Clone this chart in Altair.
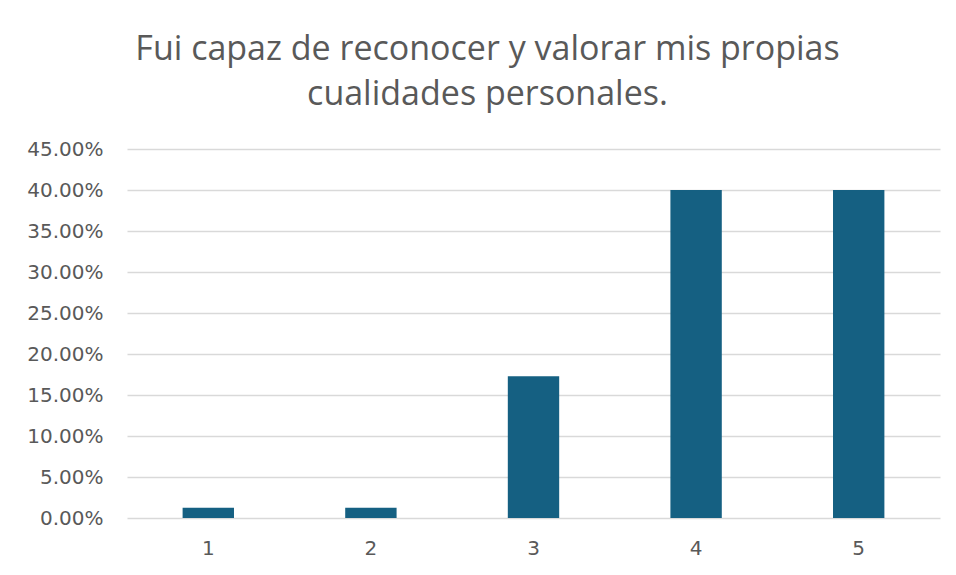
import altair as alt
import pandas as pd

categories = ["1", "2", "3", "4", "5"]
values = [0.0125, 0.0125, 0.173, 0.40, 0.40]
title_lines = ["Fui capaz de reconocer y valorar mis propias", "cualidades personales."]

df = pd.DataFrame({"cat": categories, "val": values})

bars = alt.Chart(df).mark_bar(color="#156082").encode(
    x=alt.X("cat:N", sort=categories, title=None,
            scale=alt.Scale(paddingInner=0.684, paddingOuter=0.342),
            axis=alt.Axis(labelAngle=0, labelFontSize=20, labelColor="#595959",
                          labelFont="DejaVu Sans", labelPadding=20, ticks=False,
                          domain=False, grid=False)),
    y=alt.Y("val:Q", title=None,
            scale=alt.Scale(domain=[0, 0.45], nice=False),
            axis=alt.Axis(values=[i * 0.05 for i in range(10)], format=".2%",
                          labelFontSize=20, labelColor="#595959", labelFont="DejaVu Sans",
                          labelPadding=24, ticks=False, domain=False,
                          gridColor="#D9D9D9", gridWidth=1.5)),
)

chart = bars.properties(
    width=813,
    height=369,
    background="white",
    title=alt.TitleParams(title_lines, fontSize=34, font="Open Sans",
                          fontWeight="normal", color="#595959", anchor="middle",
                          lineHeight=45, dx=-46, offset=27),
    autosize=alt.AutoSizeParams(type="none"),
    padding={"left": 119, "top": 141, "right": 8, "bottom": 50},
).configure_view(stroke=None, strokeWidth=0)

chart.save("out.html", embed_options={"renderer": "svg", "actions": False})
